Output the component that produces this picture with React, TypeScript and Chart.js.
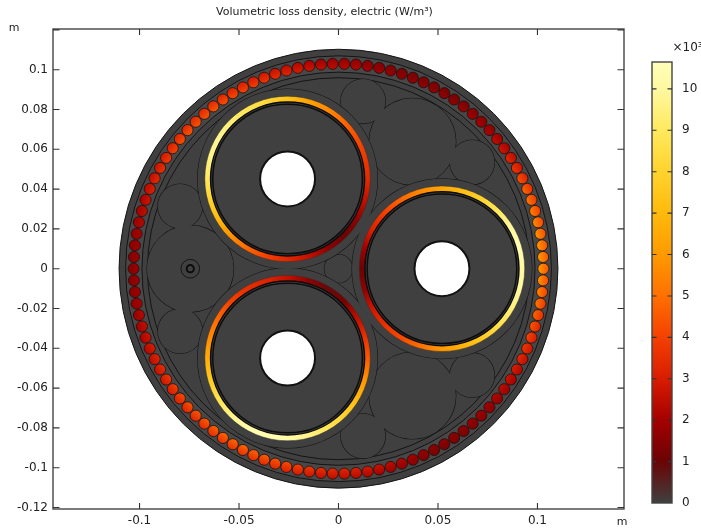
import React, { useEffect, useRef } from "react";
import { Chart, registerables } from "chart.js";

Chart.register(...registerables);

const FONT = "'DejaVu Sans'";
const TEXT = "#222222";
const BODY = "#404040";
const LINE = "#141414";

const titleText = "Volumetric loss density, electric (W/m³)";
const unitText = "m";
const colorbarExponent = "×10³";
const xTicks = [-0.1, -0.05, 0, 0.05, 0.1];
const yTicks = [-0.12, -0.1, -0.08, -0.06, -0.04, -0.02, 0, 0.02, 0.04, 0.06, 0.08, 0.1];
const colorTicks = [0, 1, 2, 3, 4, 5, 6, 7, 8, 9, 10];
const colorMax = 10.65;

// colour table: value (x10^3 W/m^3) -> colour
const mapValues = [0, 1, 2, 3, 4, 5, 6, 7, 8, 9, 10, 10.65];
const mapColors = ["#404040", "#6a0404", "#a40000", "#d81c00", "#f44000", "#ff7000", "#ff9a00", "#ffb90c", "#ffd32e", "#ffe95e", "#fff8a0", "#ffffb8"];

// cable geometry, metres
const coreX = [-0.0256, 0.052, -0.0256];
const coreY = [0.0451, 0, -0.0449];
const sheathR = 0.0452;
const ringOuterR = 0.0416;
const ringInnerR = 0.0387;
const coreR = 0.0376;
const holeR = 0.0138;
const jacketR = 0.1103;
const armourOuterR = 0.107;
const armourInnerR = 0.0988;
const bedR = 0.096;
const wireOrbitR = 0.103;
const wireR = 0.0028;

const fillerX = [-0.0745, -0.0796, -0.0796, 0.0372, 0.0672, 0.01236, 0.0372, 0.0672, 0.01236, 0];
const fillerY = [0, 0.0314, -0.0314, 0.0638, 0.0535, 0.0841, -0.0638, -0.0535, -0.0841, 0];
const fillerR = [0.0218, 0.0112, 0.0112, 0.0218, 0.0112, 0.0112, 0.0218, 0.0112, 0.0112, 0.0071];
const coaxX = -0.0745;
const coaxR = [0.0047, 0.0018];

// conductor-screen ring values, every 15 degrees anticlockwise from +x
const ringA = [3.4, 3.8, 4.2, 4.8, 5.6, 6.3, 7.4, 8.2, 8.8, 9.3, 9.8, 9.6, 9, 8, 7, 5.8, 4.8, 4, 3.3, 2.6, 1.6, 1, 1.6, 2.6];
const ringB = [10, 10.5, 10, 9, 8, 7.2, 6.4, 5.6, 4.8, 4, 3.2, 2, 1, 1.6, 2.8, 3.6, 4.2, 5, 6, 6.8, 7.6, 8.6, 9.4, 10];
const ringC = [4.5, 3.6, 2.5, 1.2, 0.9, 1.6, 2.6, 3.2, 3.5, 4, 4.8, 5.6, 6.6, 7.6, 8.6, 9.6, 10.3, 10.5, 10.2, 9.6, 8.8, 8, 7, 5.8];
const ringValues = [ringA, ringB, ringC];

// armour wire values, anticlockwise from +x
const wireValues = [
  5.2, 5.2, 5.1, 5.0, 4.8, 4.6, 4.4, 4.1, 3.7, 3.2, 2.8, 2.4, 2.1, 1.8, 1.7, 1.6, 1.5, 1.4, 1.4, 1.4, 1.4, 1.4,
  1.4, 1.5, 1.6, 1.7, 1.9, 2.0, 2.1, 2.2, 2.4, 2.6, 2.8, 3.0, 3.2, 3.4, 3.5, 3.6, 3.7, 3.8, 3.8, 3.8, 3.8, 3.7,
  3.5, 3.3, 3.1, 2.9, 2.7, 2.4, 2.2, 2.0, 1.8, 1.7, 1.6, 1.6, 1.6, 1.7, 1.8, 2.0, 2.2, 2.4, 2.6, 2.8, 3.0, 3.2,
  3.4, 3.6, 3.7, 3.8, 3.9, 4.0, 4.1, 4.1, 4.1, 4.0, 3.9, 3.8, 3.6, 3.4, 3.2, 3.0, 2.9, 2.8, 2.7, 2.5, 2.3, 2.1,
  1.9, 1.7, 1.5, 1.4, 1.4, 1.4, 1.4, 1.5, 1.6, 1.7, 1.9, 2.1, 2.3, 2.6, 2.9, 3.2, 3.5, 3.8, 4.1, 4.4, 4.7, 5.0,
];

const hex = (h: string) => [1, 3, 5].map((i) => parseInt(h.slice(i, i + 2), 16));
function valueColor(v: number): string {
  const t = Math.max(0, Math.min(colorMax, v));
  let i = 0;
  while (i < mapValues.length - 2 && t > mapValues[i + 1]) i++;
  const f = (t - mapValues[i]) / (mapValues[i + 1] - mapValues[i]);
  const a = hex(mapColors[i]);
  const b = hex(mapColors[i + 1]);
  return `rgb(${a.map((c, k) => Math.round(c + (b[k] - c) * f)).join(",")})`;
}

const pxRadius = (chart: any, r: number) => {
  const d = Math.abs(chart.scales.x.getPixelForValue(r) - chart.scales.x.getPixelForValue(0));
  return Number.isFinite(d) ? d : 0;
};
const center = (chart: any, p: any) => [chart.scales.x.getPixelForValue(p.x), chart.scales.y.getPixelForValue(p.y)];

function ringPaint(ctx: any) {
  const { chart, raw } = ctx;
  if (!raw) return BODY;
  const [cx, cy] = center(chart, raw);
  if (!Number.isFinite(cx) || !Number.isFinite(cy)) return BODY;
  const g = chart.ctx.createConicGradient(0, cx, cy);
  raw.values.forEach((v: number, i: number) => {
    g.addColorStop(i === 0 ? 0 : 1 - i / raw.values.length, valueColor(v));
  });
  g.addColorStop(1, valueColor(raw.values[0]));
  return g;
}

function wirePaint(ctx: any) {
  const { chart, raw } = ctx;
  if (!raw) return BODY;
  const [cx, cy] = center(chart, raw);
  if (!Number.isFinite(cx) || !Number.isFinite(cy)) return BODY;
  const r = pxRadius(chart, wireR);
  const a = raw.angle;
  const ux = Math.cos(a);
  const uy = -Math.sin(a);
  const g = chart.ctx.createLinearGradient(cx + ux * r, cy + uy * r, cx - ux * r, cy - uy * r);
  g.addColorStop(0, valueColor(raw.value * 0.85));
  g.addColorStop(1, valueColor(raw.value * 1.18));
  return g;
}

const wirePoints = wireValues.map((value, i) => {
  const angle = (i / wireValues.length) * Math.PI * 2;
  return { x: wireOrbitR * Math.cos(angle), y: wireOrbitR * Math.sin(angle), r: wireR, value, angle };
});
const coreAt = (r: number, extra: object = {}) => coreX.map((x, i) => ({ x, y: coreY[i], r, ...extra }));
const fillerPoints = fillerX.map((x, i) => ({ x, y: fillerY[i], r: fillerR[i] }));

const layers: any[] = [
  { label: "Jacket", data: [{ x: 0, y: 0, r: jacketR }], fill: BODY, stroke: LINE, width: 1 },
  { label: "Armour outer", data: [{ x: 0, y: 0, r: armourOuterR }], fill: "#484848", stroke: LINE, width: 1 },
  { label: "Armour inner", data: [{ x: 0, y: 0, r: armourInnerR }], fill: BODY, stroke: LINE, width: 1 },
  { label: "Armour wires", data: wirePoints, fill: wirePaint, stroke: "#1a1010", width: 0.8 },
  { label: "Bedding", data: [{ x: 0, y: 0, r: bedR }], fill: BODY, stroke: LINE, width: 1 },
  { label: "Filler outline", data: fillerPoints, fill: BODY, stroke: LINE, width: 1.1 },
  { label: "Filler body", data: fillerPoints, fill: BODY, stroke: "rgba(0,0,0,0)", width: 0 },
  { label: "Coax outer", data: [{ x: coaxX, y: 0, r: coaxR[0] }], fill: BODY, stroke: LINE, width: 1 },
  { label: "Coax inner", data: [{ x: coaxX, y: 0, r: coaxR[1] }], fill: BODY, stroke: "#0c0c0c", width: 2 },
  { label: "Sheath outline", data: coreAt(sheathR), fill: BODY, stroke: LINE, width: 1.1 },
  { label: "Sheath body", data: coreAt(sheathR), fill: BODY, stroke: "rgba(0,0,0,0)", width: 0 },
  { label: "Ring", data: coreAt(ringOuterR).map((p, i) => ({ ...p, values: ringValues[i] })), fill: ringPaint, stroke: "#303030", width: 0.5 },
  { label: "Ring inner", data: coreAt(ringInnerR), fill: BODY, stroke: "#0c0c0c", width: 1.5 },
  { label: "Core", data: coreAt(coreR), fill: BODY, stroke: "#0c0c0c", width: 1.5 },
  { label: "Hole", data: coreAt(holeR), fill: "#ffffff", stroke: "#111111", width: 2 },
];

const framePlugin = {
  id: "frame",
  afterDraw(chart: any) {
    const { ctx, chartArea: a, scales } = chart;
    ctx.save();
    ctx.strokeStyle = "#444444";
    ctx.lineWidth = 1.4;
    ctx.strokeRect(a.left, a.top, a.right - a.left, a.bottom - a.top);
    ctx.strokeStyle = "#333333";
    ctx.lineWidth = 1.1;
    ctx.beginPath();
    xTicks.forEach((v) => {
      const p = scales.x.getPixelForValue(v);
      ctx.moveTo(p, a.top);
      ctx.lineTo(p, a.top + 6);
      ctx.moveTo(p, a.bottom);
      ctx.lineTo(p, a.bottom - 6);
    });
    [...yTicks, 0.12].forEach((v) => {
      const p = scales.y.getPixelForValue(v);
      ctx.moveTo(a.left, p);
      ctx.lineTo(a.left + 6.5, p);
      ctx.moveTo(a.right, p);
      ctx.lineTo(a.right - 6.5, p);
    });
    ctx.stroke();
    ctx.fillStyle = TEXT;
    ctx.font = `11px ${FONT}`;
    ctx.textAlign = "center";
    ctx.textBaseline = "middle";
    ctx.fillText(titleText, 324.5, 12.5);
    ctx.fillText(unitText, 14, 28.5);
    ctx.fillText(unitText, 622, 522);
    ctx.restore();
  },
};

const barPlugin = {
  id: "barFrame",
  afterDraw(chart: any) {
    const { ctx, chartArea: a, scales } = chart;
    ctx.save();
    ctx.strokeStyle = "#444444";
    ctx.lineWidth = 1.4;
    ctx.strokeRect(a.left, a.top, a.right - a.left, a.bottom - a.top);
    ctx.strokeStyle = "#333333";
    ctx.lineWidth = 1.1;
    ctx.beginPath();
    colorTicks.forEach((v) => {
      if (v === 0) return;
      const p = scales.y.getPixelForValue(v);
      ctx.moveTo(a.left, p);
      ctx.lineTo(a.left + 4.5, p);
      ctx.moveTo(a.right, p);
      ctx.lineTo(a.right - 4.5, p);
    });
    ctx.stroke();
    ctx.fillStyle = TEXT;
    ctx.font = `12px ${FONT}`;
    ctx.textAlign = "left";
    ctx.textBaseline = "middle";
    ctx.fillText(colorbarExponent, 672.5, 48);
    ctx.restore();
  },
};

const tickFont = { family: FONT, size: 12 };
const fmt = (v: any) => Number(Number(v).toFixed(3)).toString();

export default function App() {
  const mainRef = useRef<HTMLCanvasElement>(null);
  const barRef = useRef<HTMLCanvasElement>(null);

  useEffect(() => {
    const main = new Chart(mainRef.current!, {
      type: "scatter",
      data: {
        datasets: layers.map((l, i) => ({
          label: l.label,
          data: l.data,
          order: layers.length - i,
          showLine: false,
          pointRadius: (ctx: any) => (ctx.raw ? pxRadius(ctx.chart, ctx.raw.r) : 0),
          pointBackgroundColor: l.fill,
          pointBorderColor: l.stroke,
          pointBorderWidth: l.width,
        })),
      },
      options: {
        animation: false,
        responsive: false,
        events: [],
        layout: { padding: { top: 29, right: 77, left: 0, bottom: 0 } },
        plugins: { legend: { display: false }, tooltip: { enabled: false }, title: { display: false } },
        scales: {
          x: {
            type: "linear",
            min: -0.1435,
            max: 0.1435,
            grid: { display: false, drawTicks: false },
            border: { display: false },
            afterBuildTicks: (s: any) => { s.ticks = xTicks.map((value) => ({ value })); },
            afterFit: (s: any) => { s.height = 20; },
            ticks: { font: tickFont, color: TEXT, padding: 5, maxRotation: 0, autoSkip: false, callback: fmt },
          },
          y: {
            type: "linear",
            min: -0.12075,
            max: 0.12045,
            grid: { display: false, drawTicks: false },
            border: { display: false },
            afterBuildTicks: (s: any) => { s.ticks = yTicks.map((value) => ({ value })); },
            afterFit: (s: any) => { s.width = 53; },
            ticks: { font: tickFont, color: TEXT, padding: 5, autoSkip: false, callback: fmt },
          },
        },
      } as any,
      plugins: [framePlugin],
    });

    const bar = new Chart(barRef.current!, {
      type: "bar",
      data: {
        labels: ["Volumetric loss density"],
        datasets: [
          {
            data: [[0, colorMax]] as any,
            barPercentage: 1,
            categoryPercentage: 1,
            borderWidth: 0,
            backgroundColor: (ctx: any) => {
              const y = ctx.chart.scales.y;
              if (!y) return BODY;
              const y0 = y.getPixelForValue(0);
              const y1 = y.getPixelForValue(colorMax);
              if (!Number.isFinite(y0) || !Number.isFinite(y1)) return BODY;
              const g = ctx.chart.ctx.createLinearGradient(0, y0, 0, y1);
              mapValues.forEach((v, i) => g.addColorStop(v / colorMax, mapColors[i]));
              return g;
            },
          },
        ],
      },
      options: {
        animation: false,
        responsive: false,
        events: [],
        layout: { padding: { top: 62, left: 652, right: 0, bottom: 26 } },
        plugins: { legend: { display: false }, tooltip: { enabled: false }, title: { display: false } },
        scales: {
          x: { display: false, grid: { display: false } },
          y: {
            type: "linear",
            position: "right",
            min: 0,
            max: colorMax,
            grid: { display: false, drawTicks: false },
            border: { display: false },
            afterBuildTicks: (s: any) => { s.ticks = colorTicks.map((value) => ({ value })); },
            afterFit: (s: any) => { s.width = 29; },
            ticks: { font: tickFont, color: TEXT, padding: 10, autoSkip: false, callback: fmt },
          },
        },
      } as any,
      plugins: [barPlugin],
    });

    return () => {
      main.destroy();
      bar.destroy();
    };
  }, []);

  const layer: React.CSSProperties = { position: "absolute", left: 0, top: 0, width: 701, height: 529 };
  return (
    <div style={{ position: "absolute", left: 0, top: 0, width: 701, height: 529, background: "#ffffff", overflow: "hidden" }}>
      <canvas ref={mainRef} width={701} height={529} style={layer} />
      <canvas ref={barRef} width={701} height={529} style={layer} />
    </div>
  );
}
